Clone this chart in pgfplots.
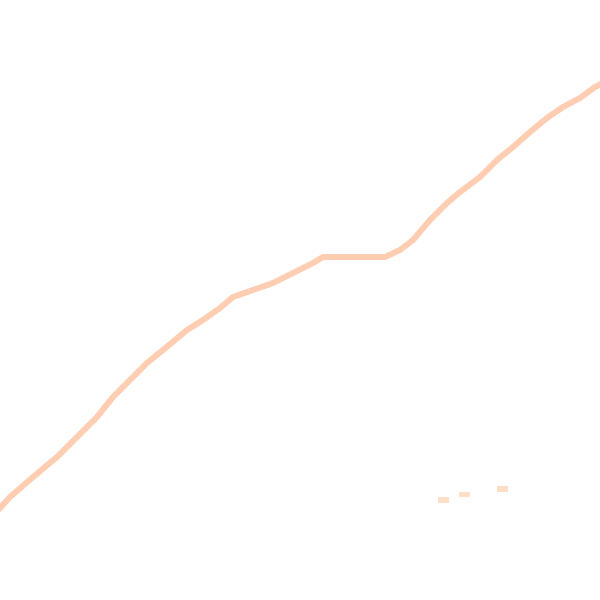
\documentclass[border=0pt]{standalone}
\usepackage{pgfplots}
\pgfplotsset{compat=1.18}
\definecolor{peach}{RGB}{255,206,178}
\definecolor{peachlight}{RGB}{255,222,200}
\begin{document}
\begin{tikzpicture}
\begin{axis}[
    width=10cm, height=10cm,
    scale only axis,
    hide axis,
    xmin=0, xmax=600,
    ymin=0, ymax=600,
    y dir=reverse,
    clip=true,
    ]
    \path (rel axis cs:0,0) rectangle (rel axis cs:1,1);
    \addplot [peach, line width=2.8pt] coordinates {
        (-5,513) (0,508) (10,497) (33,477) (57,457) (77,437) (97,417)
        (113,397) (133,377) (147,363) (163,350) (187,330) (203,320)
        (220,308) (233,297) (253,290) (273,283) (293,273) (313,263)
        (323,257) (385,257) (400,250) (413,240) (430,220) (447,203)
        (460,192) (480,177) (497,160) (513,147) (530,132) (547,118)
        (563,107) (580,98) (595,87) (605,82) };
    \addplot [peachlight, line width=2.6pt] coordinates {(438,499.8) (449,499.8)};
    \addplot [peachlight, line width=2.6pt] coordinates {(459,494.5) (470,494.5)};
    \addplot [peachlight, line width=2.6pt] coordinates {(497,489) (508,489)};
\end{axis}
\end{tikzpicture}
\end{document}
